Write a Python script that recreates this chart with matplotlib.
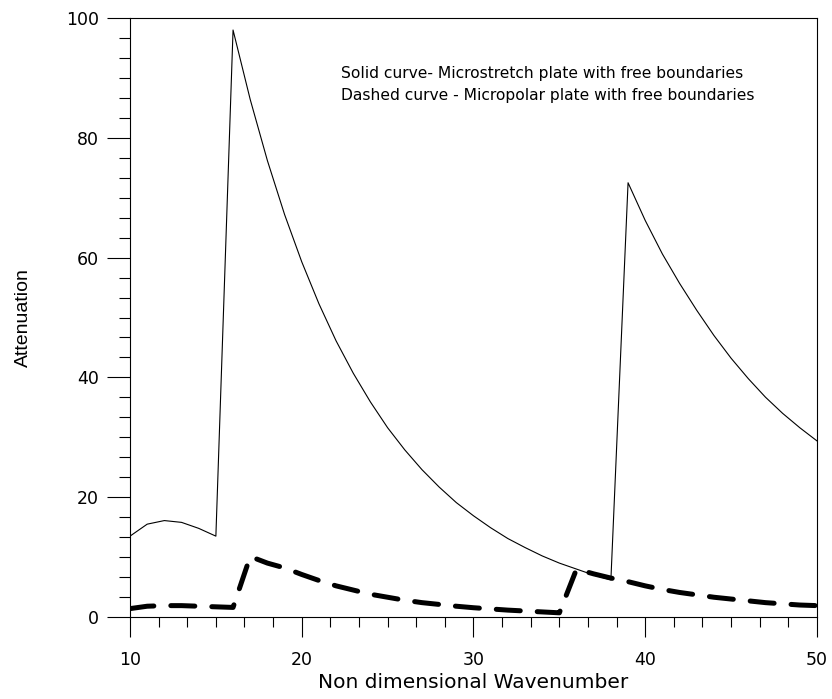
import matplotlib
matplotlib.use("Agg")
import matplotlib.pyplot as plt
from matplotlib.ticker import MultipleLocator

# ── data ──────────────────────────────────────────────────────────────────────
wavenumber = list(range(10, 51))

microstretch = [13.5, 15.5, 16.1, 15.8, 14.8, 13.5,
                98.0, 86.4, 76.2, 67.2, 59.3, 52.3, 46.1, 40.7, 35.9, 31.6,
                27.9, 24.6, 21.7, 19.1, 16.9, 14.9, 13.1, 11.6, 10.2, 9.0,
                8.0, 7.0, 6.2,
                72.5, 66.2, 60.6, 55.7, 51.2, 47.0, 43.2, 39.8, 36.7, 34.0,
                31.6, 29.4]

micropolar = [1.4, 1.8, 1.9, 1.9, 1.8, 1.7, 1.6,
              10.1, 9.0, 8.2, 7.1, 6.1, 5.2, 4.5, 3.8, 3.3, 2.8, 2.4, 2.1,
              1.8, 1.55, 1.35, 1.15, 1.0, 0.85, 0.7,
              8.0, 7.2, 6.5, 5.9, 5.2, 4.6, 4.1, 3.7, 3.3, 3.0, 2.7, 2.4,
              2.2, 2.0, 1.9]

note_lines = ["Solid curve- Microstretch plate with free boundaries",
              "Dashed curve - Micropolar plate with free boundaries"]

plt.rcParams["font.family"] = "DejaVu Sans"

fig = plt.figure(figsize=(8.32, 6.99), dpi=100)
ax = fig.add_axes([0.15625, 0.1173, 0.8257, 0.8569])

ax.plot(wavenumber, microstretch, color="black", linewidth=0.8)
ax.plot(wavenumber, micropolar, color="black", linewidth=3.6,
        linestyle=(0, (4.8, 3.4)), dash_capstyle="round")

ax.set_xlim(10, 50)
ax.set_ylim(0, 100)
ax.xaxis.set_major_locator(MultipleLocator(10))
ax.xaxis.set_minor_locator(MultipleLocator(10 / 6))
ax.yaxis.set_major_locator(MultipleLocator(20))
ax.yaxis.set_minor_locator(MultipleLocator(20 / 6))

ax.tick_params(axis="x", which="major", direction="out", length=14.5, width=0.8,
               pad=10, labelsize=12.5)
ax.tick_params(axis="x", which="minor", direction="out", length=7.5, width=0.8)
ax.tick_params(axis="y", which="major", direction="out", length=16.5, width=0.8,
               pad=6, labelsize=12.5)
ax.tick_params(axis="y", which="minor", direction="out", length=8, width=0.8)
for s in ax.spines.values():
    s.set_linewidth(0.8)

ax.set_xlabel("Non dimensional Wavenumber", fontsize=14.5, labelpad=3)
ax.set_ylabel("Attenuation", fontsize=14, family="Liberation Sans", labelpad=24)

ax.text(22.3, 90.8, note_lines[0], fontsize=11.2, va="center", ha="left")
ax.text(22.3, 87.0, note_lines[1], fontsize=11.2, va="center", ha="left")

plt.savefig("out.png", dpi=100)
plt.close()
